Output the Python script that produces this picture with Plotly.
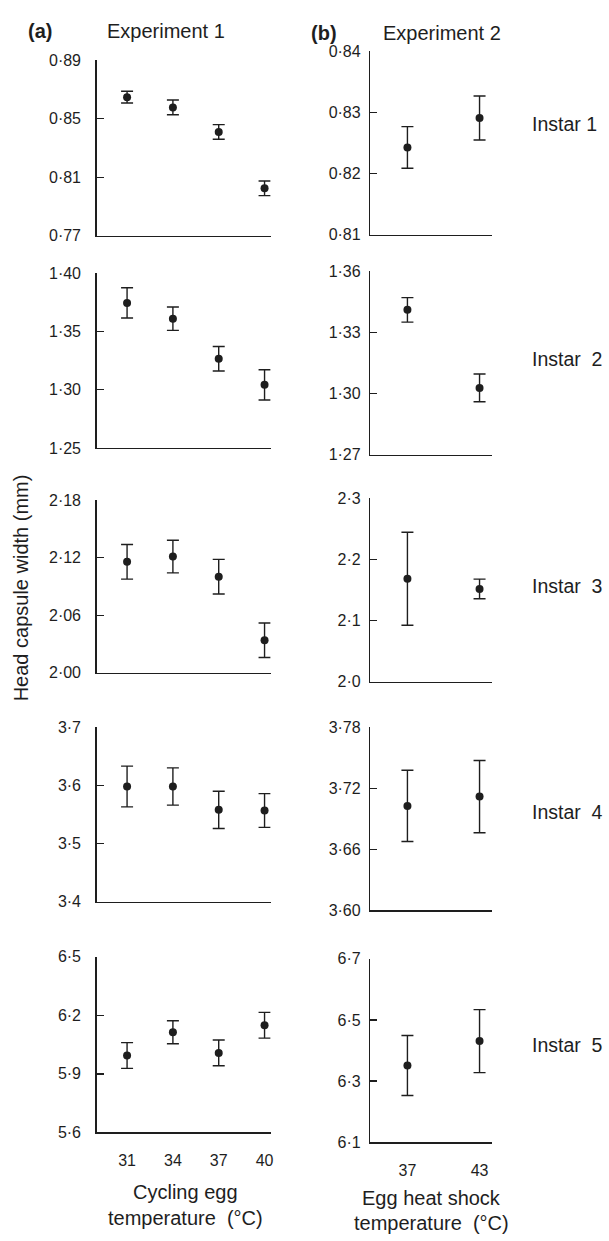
import plotly.graph_objects as go

W, H = 609, 1241
FONT = "Liberation Sans, Arial, sans-serif"
INK = "#1e1e1e"

# ---------------- data ----------------
exp1_temps = [31, 34, 37, 40]
exp2_temps = [37, 43]

exp1_mean = [
    [0.8648, 0.8578, 0.8410, 0.8025],
    [1.3746, 1.3610, 1.3266, 1.3042],
    [2.1157, 2.1212, 2.1002, 2.0339],
    [3.5978, 3.5978, 3.5577, 3.5566],
    [5.994, 6.1135, 6.0073, 6.149],
]
exp1_err = [
    [0.004, 0.005, 0.005, 0.005],
    [0.013, 0.010, 0.0105, 0.013],
    [0.018, 0.017, 0.018, 0.018],
    [0.035, 0.032, 0.032, 0.029],
    [0.066, 0.059, 0.066, 0.066],
]
exp2_mean = [
    [0.8243, 0.8291],
    [1.3411, 1.3028],
    [2.1683, 2.1516],
    [3.7026, 3.7117],
    [6.351, 6.4308],
]
exp2_err = [
    [0.0034, 0.0036],
    [0.006, 0.0068],
    [0.076, 0.016],
    [0.035, 0.0355],
    [0.098, 0.103],
]

exp1_ticks = [
    [0.77, 0.81, 0.85, 0.89],
    [1.25, 1.30, 1.35, 1.40],
    [2.00, 2.06, 2.12, 2.18],
    [3.4, 3.5, 3.6, 3.7],
    [5.6, 5.9, 6.2, 6.5],
]
exp1_ticktext = [
    ["0·77", "0·81", "0·85", "0·89"],
    ["1·25", "1·30", "1·35", "1·40"],
    ["2·00", "2·06", "2·12", "2·18"],
    ["3·4", "3·5", "3·6", "3·7"],
    ["5·6", "5·9", "6·2", "6·5"],
]
exp2_ticks = [
    [0.81, 0.82, 0.83, 0.84],
    [1.27, 1.30, 1.33, 1.36],
    [2.0, 2.1, 2.2, 2.3],
    [3.60, 3.66, 3.72, 3.78],
    [6.1, 6.3, 6.5, 6.7],
]
exp2_ticktext = [
    ["0·81", "0·82", "0·83", "0·84"],
    ["1·27", "1·30", "1·33", "1·36"],
    ["2·0", "2·1", "2·2", "2·3"],
    ["3·60", "3·66", "3·72", "3·78"],
    ["6·1", "6·3", "6·5", "6·7"],
]
instar_labels = ["Instar 1", "Instar\u00a0\u00a02", "Instar\u00a0\u00a03",
                 "Instar\u00a0\u00a04", "Instar\u00a0\u00a05"]

# ---------------- layout geometry (pixels) ----------------
left_x = (97, 272)
right_x = (372, 494)
left_rows = [(53, 231), (269, 446), (499, 674), (729, 906), (962, 1140)]
right_rows = [(44, 230), (267, 453), (497, 683), (729, 915), (964, 1150)]
instar_y = [118, 356, 585.7, 815, 1051]


def fx(p):
    return p / W


def fy(p):
    return 1 - p / H


fig = go.Figure()
layout = dict(
    width=W, height=H, margin=dict(l=0, r=0, t=0, b=0),
    paper_bgcolor="white", plot_bgcolor="white", showlegend=False,
    font=dict(family=FONT, color=INK, size=16),
)

annotations = []
idx = 0
for r in range(5):
    for col in range(2):
        idx += 1
        xa = "xaxis" if idx == 1 else f"xaxis{idx}"
        ya = "yaxis" if idx == 1 else f"yaxis{idx}"
        xref = "x" if idx == 1 else f"x{idx}"
        yref = "y" if idx == 1 else f"y{idx}"
        if col == 0:
            xs, ys, es = exp1_temps, exp1_mean[r], exp1_err[r]
            ticks, ttext = exp1_ticks[r], exp1_ticktext[r]
            xd, (top, bot) = left_x, left_rows[r]
            xrange = [29, 40.4]
            standoff = 11
        else:
            xs, ys, es = exp2_temps, exp2_mean[r], exp2_err[r]
            ticks, ttext = exp2_ticks[r], exp2_ticktext[r]
            xd, (top, bot) = right_x, right_rows[r]
            xrange = [33.9, 44.0]
            standoff = 5
        fig.add_trace(go.Scatter(
            x=xs, y=ys, mode="markers", xaxis=xref, yaxis=yref,
            marker=dict(size=8, color=INK),
            error_y=dict(type="data", array=es, visible=True,
                         color=INK, thickness=1.4, width=6),
            hoverinfo="skip",
        ))
        layout[xa] = dict(
            domain=[fx(xd[0]), fx(xd[1])], range=xrange, anchor=yref,
            showline=True, linecolor=INK, linewidth=1.3, showgrid=False,
            zeroline=False, ticks="", fixedrange=True,
            tickvals=xs if r == 4 else [], ticktext=[str(v) for v in xs] if r == 4 else [],
            tickfont=dict(size=16, family=FONT, color=INK),
            ticklabelstandoff=13,
        )
        layout[ya] = dict(
            domain=[fy(bot), fy(top)], range=[ticks[0], ticks[-1]], anchor=xref,
            showline=True, linecolor=INK, linewidth=1.3, showgrid=False,
            zeroline=False, ticks="inside", ticklen=7, tickwidth=1.3, tickcolor=INK,
            tickvals=ticks, ticktext=ttext, fixedrange=True,
            tickfont=dict(size=16, family=FONT, color=INK),
            ticklabelstandoff=standoff,
        )
    annotations.append(dict(
        text=instar_labels[r], x=fx(533), y=fy(instar_y[r]), xref="paper", yref="paper",
        xanchor="left", yanchor="middle", showarrow=False,
        font=dict(size=19.5, family=FONT, color=INK),
    ))

# titles
for txt, xc, yc, bold in [("(a)", 40, 23, True), ("Experiment 1", 167, 23, False),
                          ("(b)", 325.5, 25, True), ("Experiment 2", 444.5, 25, False)]:
    annotations.append(dict(
        text=f"<b>{txt}</b>" if bold else txt, x=fx(xc), y=fy(yc),
        xref="paper", yref="paper", xanchor="center", yanchor="middle",
        showarrow=False, font=dict(size=20, family=FONT, color=INK),
    ))

# axis titles
for txt, xc, yc in [("Cycling egg", 186, 1200), ("temperature\u00a0\u00a0(°C)", 186, 1226.7),
                    ("Egg heat shock", 433.3, 1207), ("temperature\u00a0\u00a0(°C)", 433.3, 1231.7)]:
    annotations.append(dict(
        text=txt, x=fx(xc), y=fy(yc), xref="paper", yref="paper",
        xanchor="center", yanchor="middle", showarrow=False,
        font=dict(size=20, family=FONT, color=INK),
    ))
annotations.append(dict(
    text="Head capsule width (mm)", x=fx(22), y=fy(587.5), xref="paper", yref="paper",
    xanchor="center", yanchor="middle", textangle=-90, showarrow=False,
    font=dict(size=20, family=FONT, color=INK),
))

layout["annotations"] = annotations
fig.update_layout(**layout)
fig.write_html(
    "out.html",
    config={"displayModeBar": False, "staticPlot": True},
    post_script="document.body.style.margin='0';document.body.style.padding='0';"
                "document.body.style.overflow='hidden';"
                "document.documentElement.style.overflow='hidden';",
)
